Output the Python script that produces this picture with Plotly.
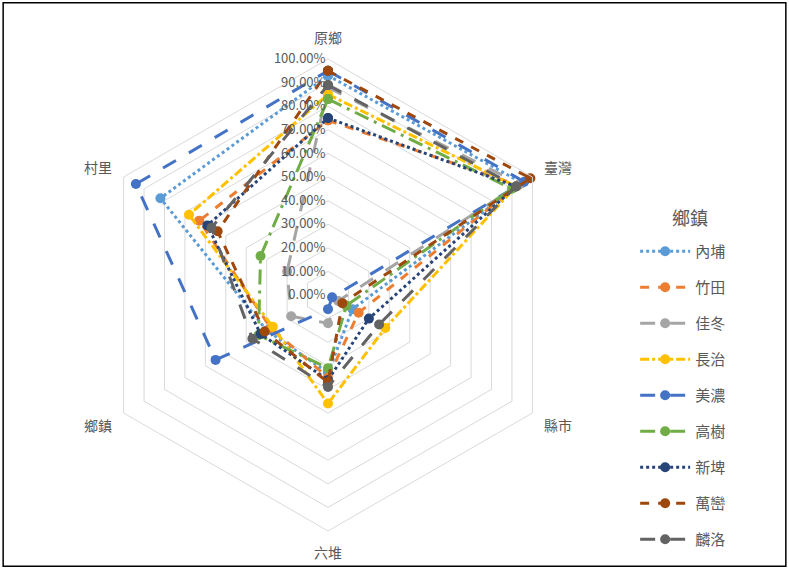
import plotly.graph_objects as go

categories = ["原鄉", "臺灣", "縣市", "六堆", "鄉鎮", "村里"]

names = ["內埔", "竹田", "佳冬", "長治", "美濃", "高樹", "新埤", "萬巒", "麟洛"]

neipu = [0.93, 0.95, 0.12, 0.33, 0.30, 0.82]
zhutian = [0.74, 0.93, 0.15, 0.35, 0.28, 0.63]
jiadong = [0.88, 0.94, 0.05, 0.12, 0.18, 0.20]
changzhi = [0.85, 0.92, 0.28, 0.46, 0.27, 0.68]
meinong = [0.95, 0.96, 0.02, 0.06, 0.55, 0.94]
gaoshu = [0.83, 0.90, 0.09, 0.31, 0.34, 0.33]
xinpi = [0.75, 0.92, 0.20, 0.36, 0.33, 0.59]
wanluan = [0.95, 0.99, 0.07, 0.37, 0.31, 0.54]
linluo = [0.89, 0.92, 0.25, 0.39, 0.37, 0.57]

series = [neipu, zhutian, jiadong, changzhi, meinong, gaoshu, xinpi, wanluan, linluo]

legend_title = "鄉鎮"

colors = ["#5B9BD5", "#ED7D31", "#A5A5A5", "#FFC000", "#4472C4",
          "#70AD47", "#264478", "#9E480E", "#636363"]
dashes = ["dot", "dash", "longdash", "dashdot", "longdash",
          "longdashdot", "dot", "dash", "longdash"]

FONT = "Noto Sans CJK TC, Noto Sans, sans-serif"

fig = go.Figure()
for i, (name, vals) in enumerate(zip(names, series)):
    fig.add_trace(go.Scatterpolar(
        r=vals + vals[:1],
        theta=categories + categories[:1],
        name=name,
        mode="lines+markers",
        line=dict(color=colors[i], width=3, dash=dashes[i]),
        marker=dict(color=colors[i], size=10),
        legendgroup=name,
    ))

fig.update_layout(
    width=789, height=568,
    margin=dict(l=0, r=0, t=0, b=0),
    paper_bgcolor="white",
    plot_bgcolor="white",
    font=dict(family=FONT, color="#595959"),
    polar=dict(
        domain=dict(x=[(328 - 236) / 789, (328 + 236) / 789],
                    y=[(273 - 236) / 568, (273 + 236) / 568]),
        gridshape="linear",
        bgcolor="white",
        radialaxis=dict(
            range=[0, 1], dtick=0.1, tick0=0, tickformat=".2%",
            angle=90, tickangle=90, side="counterclockwise",
            showline=False, ticks="",
            gridcolor="#D9D9D9", gridwidth=1,
            tickfont=dict(size=13, color="#595959", family=FONT),
        ),
        angularaxis=dict(
            direction="clockwise", rotation=90,
            showgrid=False, showline=True, linecolor="#D9D9D9", linewidth=1,
            ticks="outside", ticklen=10, tickcolor="rgba(0,0,0,0)",
            tickfont=dict(size=14, color="#595959", family=FONT),
        ),
    ),
    legend=dict(
        x=0.805, y=1 - 235 / 568, xanchor="left", yanchor="top",
        font=dict(size=15, color="#595959"),
        tracegroupgap=13.5,
        itemwidth=50,
        bgcolor="rgba(0,0,0,0)",
    ),
    annotations=[dict(text=legend_title, xref="paper", yref="paper",
                      x=690 / 789, y=1 - 217 / 568, xanchor="center", yanchor="middle",
                      showarrow=False, font=dict(size=18, color="#595959", family=FONT))],
    shapes=[dict(type="rect", xref="paper", yref="paper",
                 x0=0.004, y0=0.003, x1=0.996, y1=0.995,
                 line=dict(color="black", width=1.5))],
)

fig.write_html(
    "out.html",
    config={"displayModeBar": False},
    post_script="document.body.style.margin='0';document.body.style.overflow='hidden';",
)
